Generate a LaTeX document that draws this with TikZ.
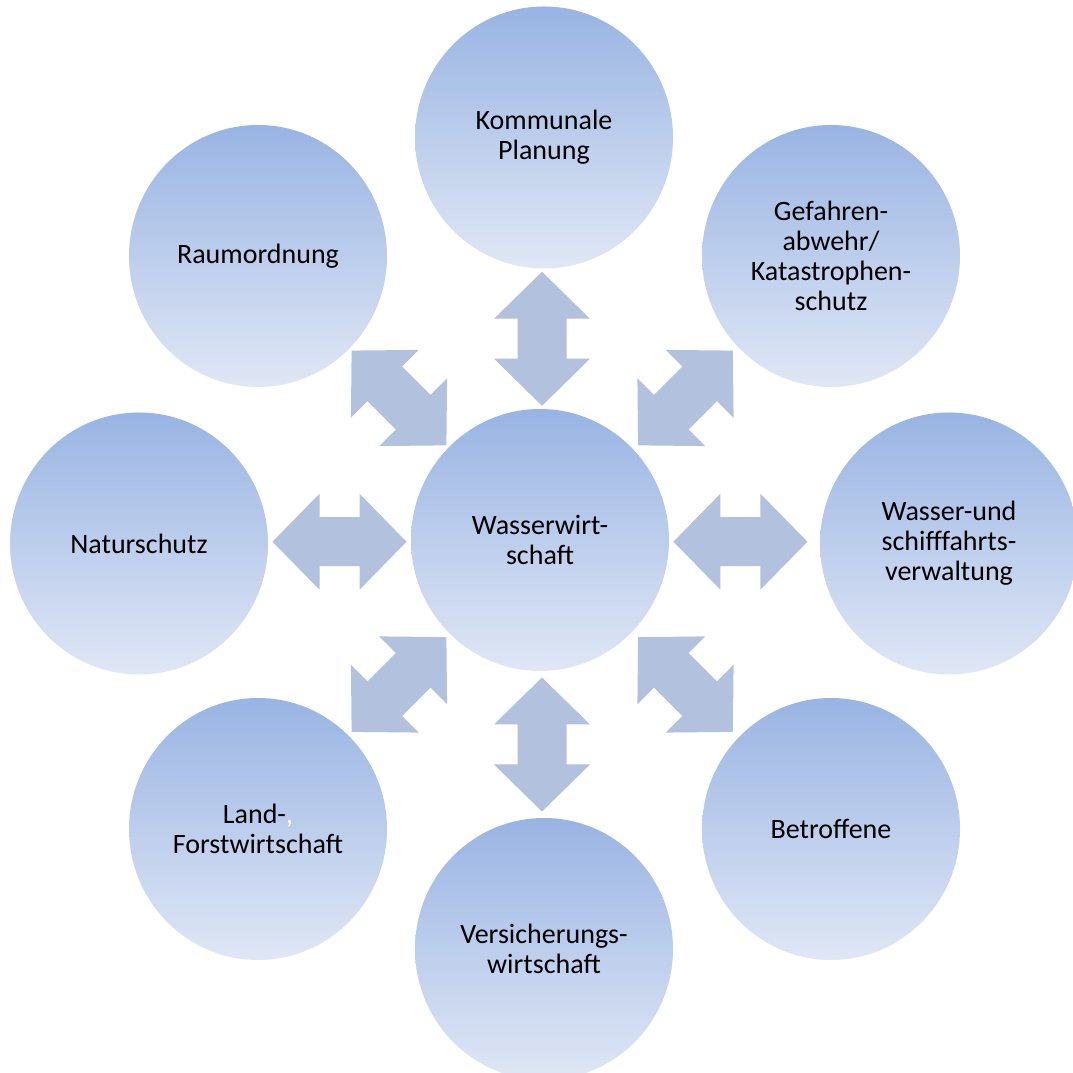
\documentclass[tikz,border=0pt]{standalone}
\usepackage{fontspec}
\setmainfont{Carlito}
\usetikzlibrary{shapes.geometric,calc}
\definecolor{circtop}{HTML}{99B4E3}
\definecolor{circbot}{HTML}{E0E7F5}
\definecolor{arrowfill}{HTML}{B2C1DD}
\tikzset{
  bubble/.style={ellipse, minimum width=258pt, minimum height=262pt, inner sep=0pt,
    top color=circtop, bottom color=circbot, shading angle=0,
    font=\fontsize{28}{30}\selectfont, align=center, text=black},
  dblarrow/.pic={
    \fill[arrowfill] (-67,0) -- (-20,-48) -- (-20,-24.5) -- (20,-24.5) -- (20,-48)
      -- (67,0) -- (20,48) -- (20,24.5) -- (-20,24.5) -- (-20,48) -- cycle;
  }
}
\begin{document}
\begin{tikzpicture}[x=1pt,y=1pt]
\useasboundingbox (0,0) rectangle (1073,1073);
\clip (0,0) rectangle (1073,1073);
\fill[white] (0,0) rectangle (1073,1073);
\node[bubble] (W) at (540,533) {Wasserwirt-\\schaft};
\node[bubble] (K) at (544,935.5) {Kommunale\\Planung};
\node[bubble] (G) at (831,817) {Gefahren-\\abwehr/\\Katastrophen-\\schutz};
\node[bubble] (S) at (949,529.5) {Wasser-und\\schifffahrts-\\verwaltung};
\node[bubble] (B) at (831,244) {Betroffene};
\node[bubble] (V) at (544,124) {Versicherungs-\\wirtschaft};
\node[bubble] (L) at (258,244) {Land-{\color{white},}\\Forstwirtschaft};
\node[bubble] (N) at (139,529.5) {Naturschutz};
\node[bubble] (R) at (258,817) {Raumordnung};
\path ($(W)!0.5!(K)$) pic[rotate=90] {dblarrow};
\path ($(W)!0.5!(G)$) pic[rotate=45] {dblarrow};
\path ($(W)!0.49!(S)$) pic {dblarrow};
\path ($(W)!0.5!(B)$) pic[rotate=-45] {dblarrow};
\path ($(W)!0.5!(V)$) pic[rotate=90] {dblarrow};
\path ($(W)!0.5!(L)$) pic[rotate=45] {dblarrow};
\path ($(W)!0.5!(N)$) pic {dblarrow};
\path ($(W)!0.5!(R)$) pic[rotate=-45] {dblarrow};
\end{tikzpicture}
\end{document}
